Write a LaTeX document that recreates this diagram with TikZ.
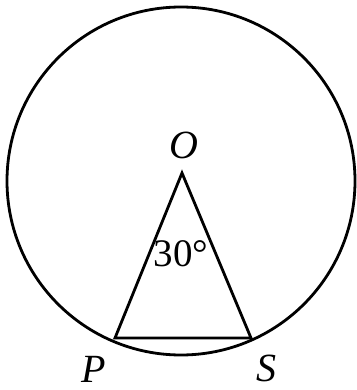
\documentclass[tikz,border=0pt]{standalone}
\usepackage{fontspec}
\setmainfont{Liberation Serif}
\usetikzlibrary{positioning}
\tikzset{
  geo/.style={line width=1.4pt},
  lbl/.style={inner sep=0pt,font=\fontsize{20}{23}\selectfont}
}
\begin{document}
\begin{tikzpicture}[x=0.5pt,y=-0.5pt]
  \useasboundingbox (0,0) rectangle (357,390);
  % circle with centre C and the triangle OPS
  \coordinate (C) at (181,181);
  \coordinate (O) at (182,173);
  \coordinate (P) at (115,338);
  \coordinate (S) at (251,338);
  \draw[geo] (C) circle[radius=87pt];
  \draw[geo] (P) -- (O) -- (S) -- cycle;
  % labels
  \node[lbl] (labO) at (184,145) {\textit{O}};
  \node[lbl] (labP) at (94,369) {\textit{P}};
  \node[lbl] (labS) at (266,368) {\textit{S}};
  \node[lbl,font=\fontsize{19.5}{22}\selectfont] (ang) at (181,254) {30°};
\end{tikzpicture}
\end{document}
